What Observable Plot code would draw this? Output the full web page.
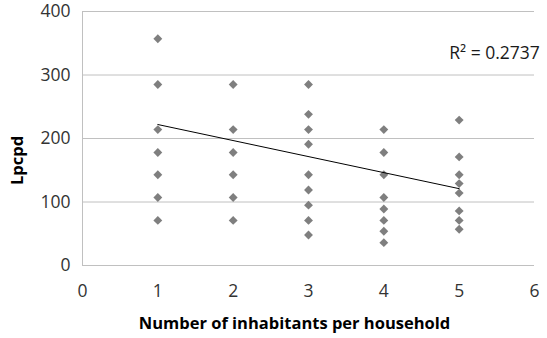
<!DOCTYPE html>
<html>
<head>
<meta charset="utf-8">
<script src="https://cdn.jsdelivr.net/npm/d3@7"></script>
<script src="https://cdn.jsdelivr.net/npm/@observablehq/plot@0.6"></script>
<style>
  html, body { margin: 0; padding: 0; background: #fff; }
</style>
</head>
<body>
<div id="chart"></div>
<script>
// Household size (x) and litres per capita per day (y)
const inhabitants = [
  1,1,1,1,1,1,1,
  2,2,2,2,2,2,
  3,3,3,3,3,3,3,3,3,
  4,4,4,4,4,4,4,4,
  5,5,5,5,5,5,5,5
];
const lpcpd = [
  357,285,214,178,143,107,71,
  285,214,178,143,107,71,
  285,238,214,191,143,119,95,71,48,
  214,178,143,107,89,71,54,36,
  229,171,143,129,114,86,71,57
];
// Linear trend line endpoints
const trendX = [1, 5];
const trendY = [222, 121];
const xTicks = [0, 1, 2, 3, 4, 5, 6];
const yTicks = [0, 100, 200, 300, 400];
const rSquaredLabel = ["R² = 0.2737"];
const xTitle = ["Number of inhabitants per household"];
const yTitle = ["Lpcpd"];

const points = inhabitants.map((x, i) => ({x, y: lpcpd[i]}));
const trend = trendX.map((x, i) => ({x, y: trendY[i]}));

const gridColor = "#c0c0c0";
const textColor = "#333333";

const chart = Plot.plot({
  width: 547,
  height: 338,
  marginLeft: 82,
  marginRight: 13,
  marginTop: 11,
  marginBottom: 73,
  style: {fontFamily: "Open Sans", fontSize: "17px", color: textColor, background: "#fff"},
  x: {domain: [0, 6]},
  y: {domain: [0, 400]},
  marks: [
    Plot.gridY(yTicks, {stroke: gridColor, strokeOpacity: 1}),
    Plot.ruleX([0], {stroke: gridColor, strokeOpacity: 1}),
    Plot.axisX(xTicks, {tickSize: 0, tickPadding: 19, label: null, fontSize: 17.5, fill: textColor}),
    Plot.axisY(yTicks, {tickSize: 0, tickPadding: 12, label: null, fontSize: 17.5, fill: textColor}),
    Plot.dot(points, {x: "x", y: "y", symbol: "diamond2", r: 4, fill: "#7f7f7f", stroke: "none"}),
    Plot.line(trend, {x: "x", y: "y", stroke: "#000", strokeWidth: 1}),
    Plot.text(rSquaredLabel, {x: 5.47, y: 334, text: d => d, fontSize: 17.5, fill: "#1a1a1a"}),
    Plot.text(xTitle, {frameAnchor: "bottom", textAnchor: "middle", lineAnchor: "middle", dx: -14, dy: 58, text: d => d, fontSize: 16.5, fontWeight: "bold", fill: "#000"}),
    Plot.text(yTitle, {frameAnchor: "middle", textAnchor: "middle", lineAnchor: "middle", dx: -291, dy: 22, rotate: -90, text: d => d, fontSize: 16.5, fontWeight: "bold", fill: "#000"})
  ]
});
document.getElementById("chart").appendChild(chart);
</script>
</body>
</html>
